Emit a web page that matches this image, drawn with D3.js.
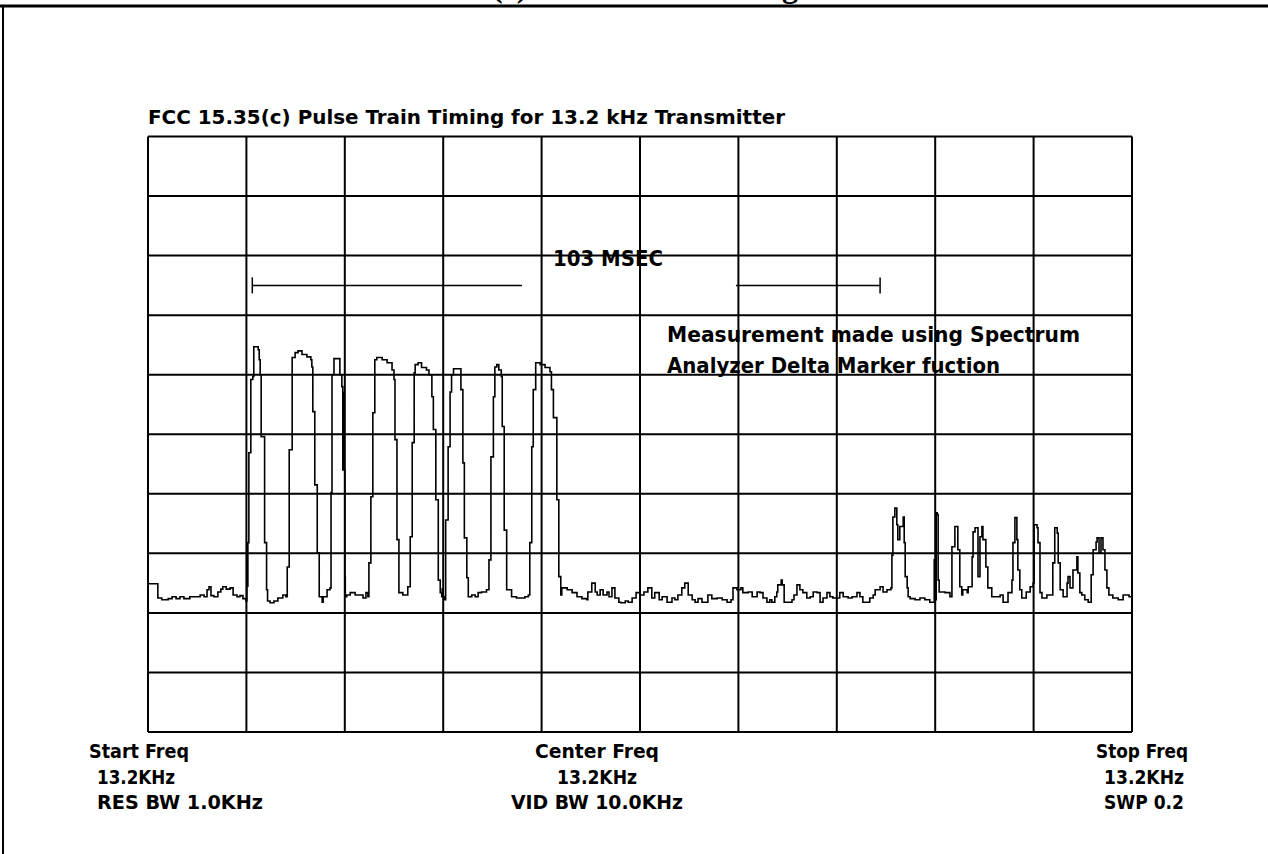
<!DOCTYPE html>
<html>
<head>
<meta charset="utf-8">
<script src="https://cdn.jsdelivr.net/npm/d3@7"></script>
<style>
  body { margin: 0; background: #fff; }
  svg { display: block; }
  .lbl { font-family: "Liberation Sans Narrow", "Arial Narrow", "DejaVu Sans Condensed", sans-serif;
         font-weight: bold; fill: #000; }
</style>
</head>
<body>
<div id="cont"></div>
<script>

// sweep is 200 ms across the screen, level is in screen divisions (0 = bottom line)
// each point: [time ms, level div]
var preTrigger = [
  [0, 2.49], [1.2, 2.49], [2.0, 2.25], [2.8, 2.22], [4.1, 2.24], [4.9, 2.27], [5.7, 2.24],
  [6.5, 2.27], [7.3, 2.24], [8.5, 2.27], [9.8, 2.27], [10.6, 2.30], [11.4, 2.27], [12.0, 2.39],
  [12.4, 2.44], [12.8, 2.29], [13.4, 2.27], [14.2, 2.35], [14.8, 2.40], [15.2, 2.44], [15.9, 2.40],
  [16.7, 2.42], [17.3, 2.30], [18.1, 2.27], [18.7, 2.29], [19.3, 2.24], [19.9, 2.20]
];

var pulseTrain = [
  // pulse 1
  [20.1, 3.18], [20.2, 2.45], [20.3, 3.18], [20.5, 4.69], [20.9, 5.92], [21.3, 5.97], [21.5, 6.47],
  [22.1, 6.47], [22.4, 6.42], [22.6, 6.25], [22.8, 6.00], [23.0, 4.96], [23.4, 4.96], [23.7, 3.18],
  [24.1, 2.39], [24.3, 2.20], [24.8, 2.17], [25.6, 2.20], [26.4, 2.25], [27.4, 2.30], [28.0, 2.27],
  // pulse 2
  [28.3, 2.77], [28.7, 4.74], [29.3, 6.29], [29.9, 6.37], [30.5, 6.40], [31.3, 6.34], [32.3, 6.30],
  [33.1, 6.25], [33.3, 6.13], [33.5, 5.38], [33.9, 4.15], [34.4, 3.01], [34.8, 2.27], [35.4, 2.18],
  [35.6, 2.27], [36.4, 2.39], [37.0, 2.42],
  // pulse 3
  [37.2, 4.02], [37.4, 6.00], [37.8, 6.27], [38.8, 6.27], [39.0, 6.00], [39.4, 5.80], [39.6, 4.40],
  [39.7, 5.70], [39.8, 4.40], [40.0, 2.60], [40.1, 2.27], [40.4, 2.30], [41.1, 2.34], [42.1, 2.30],
  [43.1, 2.30], [43.7, 2.25], [44.3, 2.34], [44.7, 2.27],
  // pulse 4
  [44.9, 2.84], [45.3, 3.95], [45.7, 5.36], [46.1, 6.25], [46.5, 6.29], [47.6, 6.25], [48.6, 6.20],
  [49.6, 6.08], [50.0, 5.92], [50.2, 4.91], [50.6, 3.23], [51.0, 2.34], [51.8, 2.30], [52.8, 2.44],
  [53.3, 3.28], [53.7, 4.86],
  // pulse 5
  [54.1, 6.03], [54.3, 6.17], [54.9, 6.20], [55.6, 6.12], [56.6, 6.08], [57.1, 6.00], [57.7, 5.63],
  [58.0, 5.08], [58.5, 3.90], [59.0, 2.55], [59.4, 2.34], [59.7, 2.27], [59.8, 2.40], [59.9, 2.27],
  [60.2, 2.22],
  // pulse 6
  [60.5, 3.56], [61.0, 4.79], [61.4, 5.71], [61.7, 6.00], [62.1, 6.10], [63.4, 6.10], [63.6, 5.75],
  [64.0, 4.52], [64.3, 3.26], [64.8, 2.59], [65.1, 2.27], [65.8, 2.30], [66.5, 2.27], [67.1, 2.34],
  [67.8, 2.35], [68.8, 2.39],
  // pulse 7
  [69.3, 2.89], [69.7, 4.62], [70.2, 5.63], [70.5, 6.13], [70.9, 6.17], [71.3, 6.08], [71.8, 5.97],
  [72.0, 5.13], [72.4, 3.39], [72.9, 2.39], [73.9, 2.27], [74.9, 2.25], [75.8, 2.25], [76.6, 2.27],
  [77.3, 2.30],
  // pulse 8
  [77.6, 3.18], [78.0, 4.79], [78.3, 5.75], [78.8, 6.20], [79.7, 6.17], [80.7, 6.12], [81.7, 6.05],
  [82.0, 5.75], [82.4, 5.28], [83.1, 3.90], [83.5, 2.61], [83.9, 2.30], [84.1, 2.42]
];

var noiseFloor = [
  [85.2, 2.39], [86.2, 2.34], [87.2, 2.27], [88.2, 2.24], [89.2, 2.22], [89.4, 2.35], [90.2, 2.50],
  [90.9, 2.35], [91.3, 2.30], [91.9, 2.39], [92.5, 2.30], [93.3, 2.35], [93.7, 2.27], [94.3, 2.42],
  [94.9, 2.25], [95.7, 2.18], [96.1, 2.17], [97.0, 2.20], [97.6, 2.18], [98.4, 2.25], [99.2, 2.34],
  [100.0, 2.30], [100.8, 2.35], [101.6, 2.42], [102.4, 2.25], [103.0, 2.34], [103.9, 2.22],
  [104.5, 2.27], [105.5, 2.18], [106.5, 2.25], [107.1, 2.22], [107.7, 2.30], [108.5, 2.42],
  [109.1, 2.50], [109.8, 2.30], [110.6, 2.22], [111.2, 2.18], [111.8, 2.24], [112.6, 2.18],
  [113.8, 2.30], [114.6, 2.24], [115.7, 2.25], [116.7, 2.22], [117.7, 2.18], [118.5, 2.22],
  [118.9, 2.42], [119.7, 2.39], [120.5, 2.42], [120.9, 2.34], [122.0, 2.35], [122.8, 2.27],
  [123.8, 2.35], [124.4, 2.34], [125.0, 2.25], [125.8, 2.18], [126.4, 2.22], [126.8, 2.18],
  [127.4, 2.27], [127.8, 2.35], [128.0, 2.47], [128.7, 2.55], [128.9, 2.47], [129.3, 2.18],
  [130.1, 2.18], [130.9, 2.22], [131.3, 2.30], [131.9, 2.47], [132.5, 2.39], [133.1, 2.34],
  [133.9, 2.25], [134.6, 2.27], [135.2, 2.35], [136.0, 2.34], [136.6, 2.18], [137.2, 2.25],
  [138.0, 2.34], [138.6, 2.27], [139.2, 2.25], [139.8, 2.25], [140.6, 2.34], [141.3, 2.27],
  [142.3, 2.25], [143.1, 2.27], [144.1, 2.34], [144.7, 2.27], [145.3, 2.18], [146.7, 2.25],
  [147.4, 2.30], [147.8, 2.39], [148.8, 2.44], [149.4, 2.35], [150.2, 2.39], [151.0, 2.42]
];

var burstTail = [
  [151.2, 2.97], [151.4, 3.61], [151.8, 3.76], [152.2, 3.48], [152.4, 3.23], [152.8, 3.45],
  [153.5, 3.61], [153.7, 3.18], [153.9, 2.61], [154.3, 2.42], [154.5, 2.27], [154.9, 2.24],
  [155.9, 2.22], [156.9, 2.25], [157.9, 2.22], [158.9, 2.18], [159.5, 2.18], [159.8, 2.89],
  [160.0, 2.22], [160.2, 3.68], [160.4, 3.65], [160.6, 2.55], [160.8, 2.35], [162.0, 2.34],
  [162.6, 2.34], [163.0, 2.27], [163.4, 3.11], [164.0, 3.45], [164.4, 3.45], [164.6, 3.06],
  [165.0, 2.44], [165.4, 2.30], [165.6, 2.39], [166.5, 2.34], [166.7, 2.44], [167.5, 2.94],
  [167.7, 3.36], [168.1, 3.43], [168.5, 3.43], [168.7, 2.61], [169.1, 3.28], [169.5, 3.45],
  [169.7, 3.23], [170.3, 2.77], [170.7, 2.42], [171.5, 2.27], [173.2, 2.30], [173.8, 2.18],
  [174.8, 2.34], [175.6, 2.55], [175.8, 3.18], [176.2, 3.60], [176.6, 3.23], [176.8, 2.72],
  [177.2, 2.39], [177.6, 2.25], [178.5, 2.35], [179.3, 2.44], [179.9, 2.50], [180.1, 3.48],
  [180.7, 3.43], [180.9, 3.18], [181.3, 2.34], [181.7, 2.25], [182.7, 2.30], [183.5, 2.30],
  [183.9, 2.84], [184.3, 3.43], [184.8, 3.34], [185.0, 2.84], [185.4, 2.39], [186.0, 2.27],
  [186.8, 2.50], [187.0, 2.61], [187.4, 2.42], [188.0, 2.72], [188.8, 2.94], [189.0, 2.67],
  [189.4, 2.34], [189.8, 2.30], [190.4, 2.22], [191.1, 2.18], [191.7, 2.64], [192.1, 3.06],
  [192.7, 3.19], [192.9, 3.26], [193.3, 3.01], [193.7, 3.26], [194.1, 3.06], [194.5, 2.72],
  [194.9, 2.42], [195.3, 2.30], [196.1, 2.25], [197.2, 2.22], [198.2, 2.30], [199.4, 2.27],
  [200.0, 2.25]
];

// delta marker bar (ms) and its level (div)
var markerStart = 21.2, markerGapStart = 76.0, markerGapEnd = 119.5, markerEnd = 148.8;
var markerLevel = 7.5;

var xTicks = d3.range(0, 201, 20);   // 20 ms / div
var yTicks = d3.range(0, 11, 1);     // 10 divisions

var title = "FCC 15.35(c) Pulse Train Timing for 13.2 kHz Transmitter";
var deltaText = "103 MSEC";
var noteLines = ["Measurement made using Spectrum", "Analyzer Delta Marker fuction"];
var footLeft = ["Start Freq", "13.2KHz", "RES BW 1.0KHz"];
var footCenter = ["Center Freq", "13.2KHz", "VID BW 10.0KHz"];
var footRight = ["Stop Freq", "13.2KHz", "SWP 0.2"];

var W = 1268, H = 854;
var margin = {top: 136.5, right: 136, bottom: 122, left: 148},
    width = W - margin.left - margin.right,
    height = H - margin.top - margin.bottom;

var svg = d3.select("#cont").append("svg")
    .attr("width", W)
    .attr("height", H);

// page heading cut off by the top edge, only descenders show
svg.append("text")
    .attr("x", 798)
    .attr("y", -3)
    .attr("text-anchor", "end")
    .style("font-family", "'Liberation Serif', 'Times New Roman', serif")
    .style("font-weight", "bold")
    .style("font-size", "32px")
    .text("FCC 15.35(c) Pulse Train Timing");

// page frame
svg.append("line").attr("x1", 0).attr("x2", W).attr("y1", 6).attr("y2", 6)
    .attr("stroke", "#000").attr("stroke-width", 3);
svg.append("line").attr("x1", 3).attr("x2", 3).attr("y1", 6).attr("y2", H)
    .attr("stroke", "#000").attr("stroke-width", 2);

var x = d3.scaleLinear().domain([0, 200]).range([margin.left, margin.left + width]);
var y = d3.scaleLinear().domain([0, 10]).range([margin.top + height, margin.top]);

// grid
var grid = svg.append("g").attr("stroke", "#000").attr("stroke-width", 2);
grid.selectAll("line.v")
    .data(xTicks)
  .enter().append("line")
    .attr("class", "v")
    .attr("x1", function(d) { return x(d); })
    .attr("x2", function(d) { return x(d); })
    .attr("y1", y(0))
    .attr("y2", y(10));
grid.selectAll("line.h")
    .data(yTicks)
  .enter().append("line")
    .attr("class", "h")
    .attr("x1", x(0))
    .attr("x2", x(200))
    .attr("y1", function(d) { return y(d); })
    .attr("y2", function(d) { return y(d); });

// trace
var trace = preTrigger.concat(pulseTrain, noiseFloor, burstTail);
var valueline = d3.line()
    .x(function(d) { return x(d[0]); })
    .y(function(d) { return y(d[1]); })
    .curve(d3.curveStepAfter);

svg.append("path")
    .datum(trace)
    .attr("fill", "none")
    .attr("stroke", "#000")
    .attr("stroke-width", 1.6)
    .attr("stroke-linejoin", "miter")
    .attr("d", valueline);

// delta marker bar
var mk = svg.append("g").attr("stroke", "#000").attr("stroke-width", 1.5);
mk.append("line")
    .attr("x1", x(markerStart)).attr("x2", x(markerGapStart))
    .attr("y1", y(markerLevel)).attr("y2", y(markerLevel));
mk.append("line")
    .attr("x1", x(markerGapEnd)).attr("x2", x(markerEnd))
    .attr("y1", y(markerLevel)).attr("y2", y(markerLevel));
[markerStart, markerEnd].forEach(function(m) {
  mk.append("line")
      .attr("x1", x(m)).attr("x2", x(m))
      .attr("y1", y(markerLevel) - 8).attr("y2", y(markerLevel) + 8);
});

// texts
function label(txt, xx, yy, len, anchor, size) {
  svg.append("text")
      .attr("class", "lbl")
      .attr("x", xx)
      .attr("y", yy)
      .attr("text-anchor", anchor || "start")
      .attr("textLength", len)
      .attr("lengthAdjust", "spacingAndGlyphs")
      .style("font-size", (size || 20) + "px")
      .text(txt);
}

label(title, 148, 124, 637, "start", 19);
label(deltaText, x(82.3), 266, 110, "start", 21);
label(noteLines[0], x(105.5), 342, 413, "start", 21);
label(noteLines[1], x(105.5), 373, 333, "start", 21);

var footY = [758, 784, 809];
var leftLen = [100, 78, 166], centerLen = [124, 80, 172], rightLen = [92, 80, 80];
footLeft.forEach(function(t, i) { label(t, i === 0 ? 89 : 97, footY[i], leftLen[i], "start", 20); });
footCenter.forEach(function(t, i) { label(t, 597, footY[i], centerLen[i], "middle", 20); });
footRight.forEach(function(t, i) { label(t, i === 0 ? 1188 : 1184, footY[i], rightLen[i], "end", 20); });

</script>
</body>
</html>
